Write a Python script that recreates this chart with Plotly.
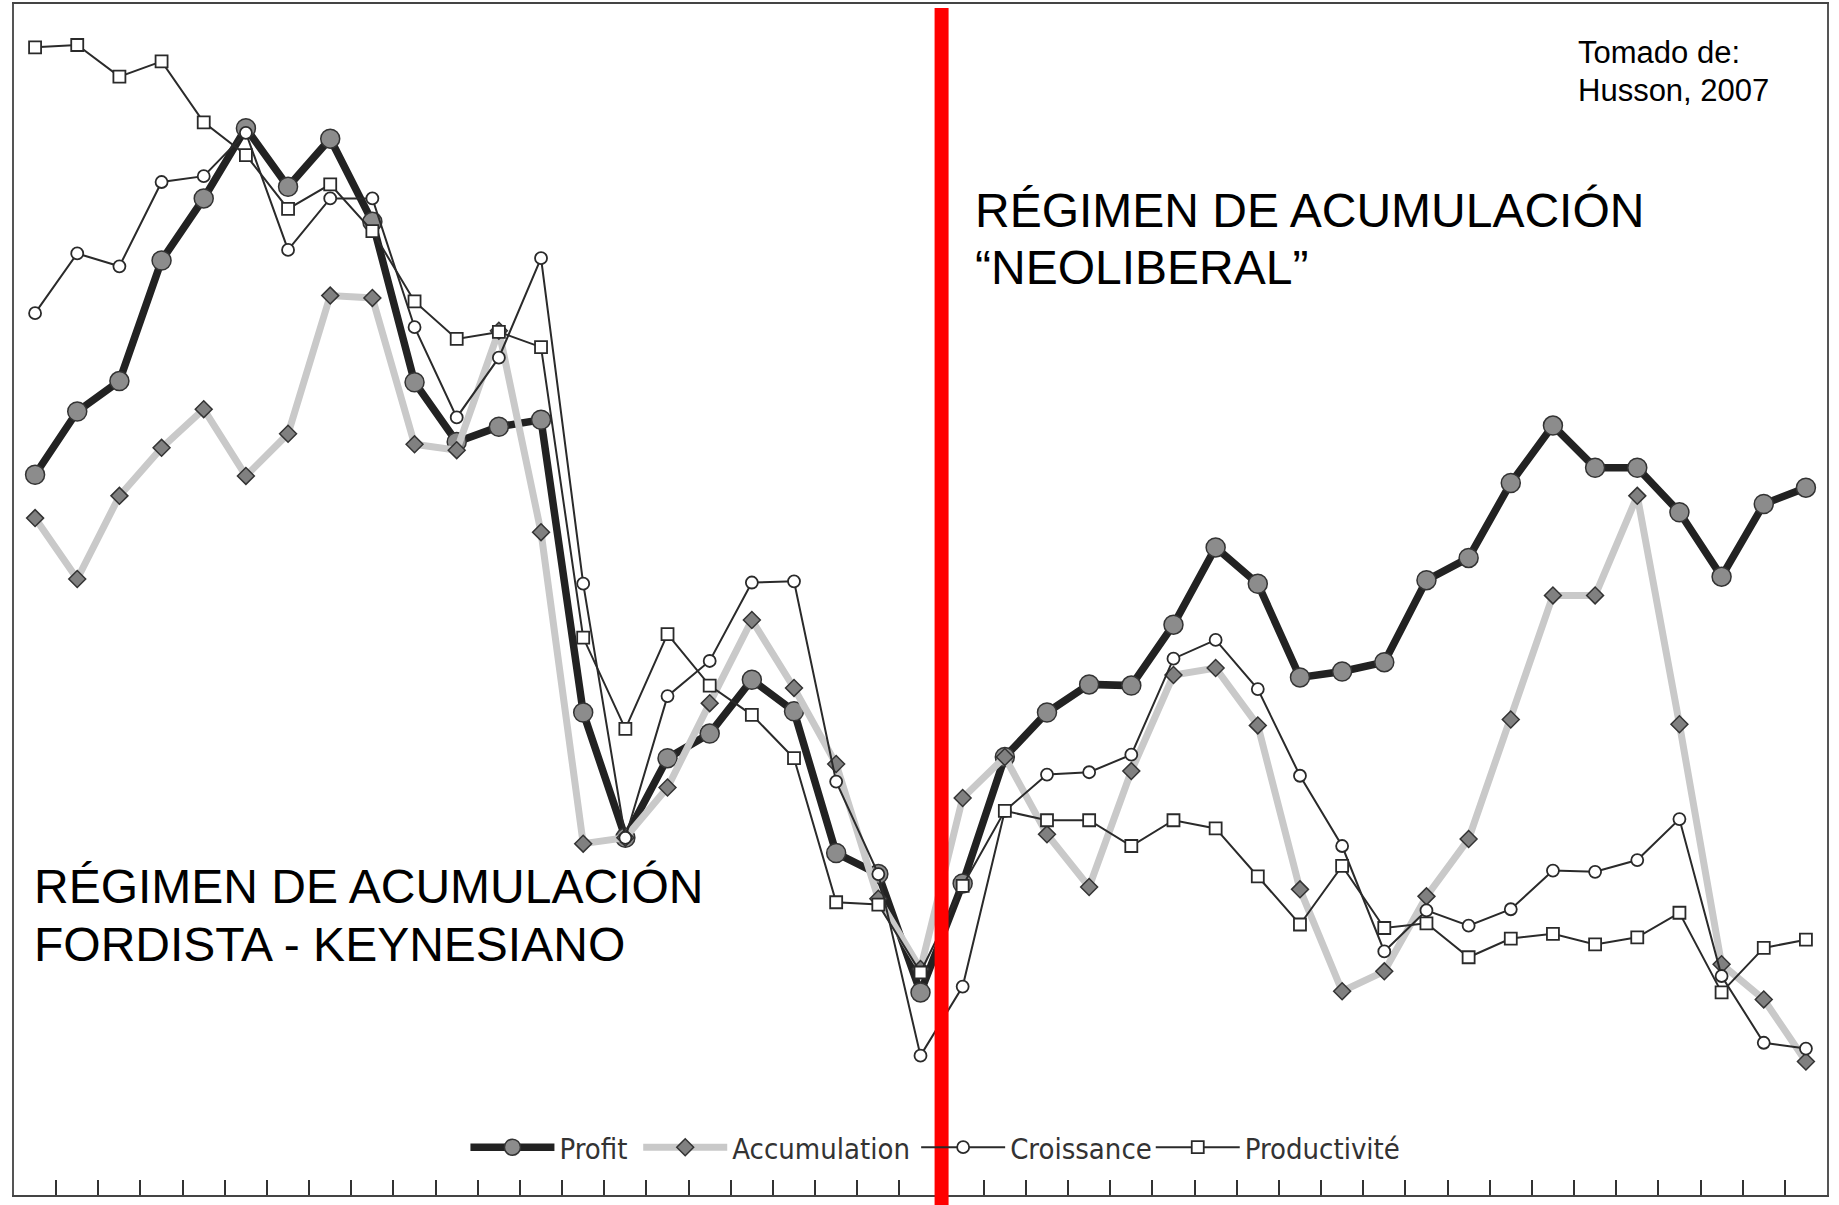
import plotly.graph_objects as go

years = list(range(1961, 2004))

profit = [61.5, 66.9, 69.5, 79.8, 85.1, 91.1, 86.1, 90.2, 83.1, 69.4,
          64.3, 65.6, 66.2, 41.2, 30.5, 37.3, 39.4, 44.0, 41.3, 29.2,
          27.4, 17.3, 26.6, 37.4, 41.2, 43.6, 43.5, 48.7, 55.3, 52.2,
          44.2, 44.7, 45.5, 52.5, 54.4, 60.8, 65.7, 62.1, 62.1, 58.3,
          52.8, 59.0, 60.4]

accumulation = [57.8, 52.6, 59.7, 63.8, 67.1, 61.4, 65.0, 76.8, 76.6, 64.1,
                63.6, 73.8, 56.6, 30.0, 30.5, 34.8, 42.0, 49.1, 43.3, 36.8,
                25.3, 19.3, 33.9, 37.4, 30.8, 26.3, 36.2, 44.4, 45.0, 40.1,
                26.1, 17.4, 19.1, 25.5, 30.4, 40.6, 51.2, 51.2, 59.7, 40.2,
                19.7, 16.7, 11.4]

croissance = [75.3, 80.4, 79.3, 86.5, 87.0, 90.7, 80.7, 85.1, 85.1, 74.1,
              66.4, 71.5, 80.0, 52.2, 30.5, 42.6, 45.6, 52.3, 52.4, 35.3,
              27.4, 11.9, 17.8, 32.8, 35.9, 36.1, 37.6, 45.8, 47.4, 43.2,
              35.8, 29.8, 20.8, 24.3, 23.0, 24.4, 27.7, 27.6, 28.6, 32.1,
              18.7, 13.0, 12.5]

productivite = [98.0, 98.2, 95.5, 96.8, 91.6, 88.8, 84.2, 86.3, 82.3, 76.3,
                73.1, 73.7, 72.4, 47.6, 39.8, 47.9, 43.5, 41.0, 37.3, 25.0,
                24.8, 19.0, 26.4, 32.8, 32.0, 32.0, 29.8, 32.0, 31.3, 27.2,
                23.1, 28.1, 22.8, 23.2, 20.3, 21.9, 22.3, 21.4, 22.0, 24.1,
                17.3, 21.1, 21.8]

series_names = ["Profit", "Accumulation", "Croissance", "Productivité"]
break_year = 1982.5

fig = go.Figure()

fig.add_trace(go.Scatter(
    x=years, y=profit, name=series_names[0], mode="lines+markers",
    legend="legend",
    line=dict(color="#222222", width=7.5),
    marker=dict(symbol="circle", size=19, color="#8c8c8c",
                line=dict(color="#333333", width=1.5))))

fig.add_trace(go.Scatter(
    x=years, y=accumulation, name=series_names[1], mode="lines+markers",
    legend="legend2",
    line=dict(color="#c9c9c9", width=7),
    marker=dict(symbol="diamond", size=13, color="#808080",
                line=dict(color="#333333", width=1.5))))

fig.add_trace(go.Scatter(
    x=years, y=croissance, name=series_names[2], mode="lines+markers",
    legend="legend3",
    line=dict(color="#2a2a2a", width=2),
    marker=dict(symbol="circle", size=12, color="white",
                line=dict(color="#2a2a2a", width=1.8))))

fig.add_trace(go.Scatter(
    x=years, y=productivite, name=series_names[3], mode="lines+markers",
    legend="legend4",
    line=dict(color="#2a2a2a", width=2),
    marker=dict(symbol="square", size=12, color="white",
                line=dict(color="#2a2a2a", width=1.8))))

# red separator line
fig.add_shape(type="line", xref="x", yref="paper",
              x0=break_year, x1=break_year, y0=-0.02, y1=0.9966,
              line=dict(color="#ff0000", width=14), layer="above")

ann_font = dict(family="Liberation Sans, Arial, sans-serif", size=48, color="black")
fig.add_annotation(text="RÉGIMEN DE ACUMULACIÓN", xref="paper", yref="paper",
                   x=0.0098, y=0.259, xanchor="left", yanchor="middle",
                   showarrow=False, font=ann_font)
fig.add_annotation(text="FORDISTA - KEYNESIANO", xref="paper", yref="paper",
                   x=0.0098, y=0.2104, xanchor="left", yanchor="middle",
                   showarrow=False, font=ann_font)
fig.add_annotation(text="RÉGIMEN DE ACUMULACIÓN", xref="paper", yref="paper",
                   x=0.5290, y=0.8262, xanchor="left", yanchor="middle",
                   showarrow=False, font=ann_font)
fig.add_annotation(text="“NEOLIBERAL”", xref="paper", yref="paper",
                   x=0.5290, y=0.7785, xanchor="left", yanchor="middle",
                   showarrow=False, font=ann_font)

src_font = dict(family="Liberation Sans, Arial, sans-serif", size=31, color="black")
fig.add_annotation(text="Tomado de:", xref="paper", yref="paper",
                   x=0.8617, y=0.9594, xanchor="left", yanchor="middle",
                   showarrow=False, font=src_font)
fig.add_annotation(text="Husson, 2007", xref="paper", yref="paper",
                   x=0.8617, y=0.927, xanchor="left", yanchor="middle",
                   showarrow=False, font=src_font)

leg_font = dict(family="DejaVu Sans Condensed, Liberation Sans Narrow, sans-serif",
                size=29, color="#333333")


def leg(xpos):
    return dict(orientation="h", x=xpos, xanchor="left",
                y=0.0400, yanchor="middle", font=leg_font,
                itemwidth=84, bgcolor="rgba(0,0,0,0)", borderwidth=0)


fig.update_layout(
    width=1839, height=1205,
    margin=dict(l=14, r=12, t=2, b=10),
    paper_bgcolor="white", plot_bgcolor="white",
    showlegend=True,
    legend=leg(0.2490),
    legend2=leg(0.3443),
    legend3=leg(0.4976),
    legend4=leg(0.6270),
    xaxis=dict(range=[1960.5, 2003.5], tick0=1960.5, dtick=1,
               ticks="inside", ticklen=15, tickwidth=1.5, tickcolor="#333333",
               showticklabels=False, showgrid=False, zeroline=False,
               showline=True, linecolor="#444444", linewidth=2, mirror=True),
    yaxis=dict(range=[0, 101.7], showticklabels=False, ticks="",
               showgrid=False, zeroline=False,
               showline=True, linecolor="#555555", linewidth=2, mirror=True),
)

fig.write_html("out.html",
               config={"displayModeBar": False},
               post_script="document.body.style.margin='0px';"
                           "document.body.style.overflow='hidden';")
